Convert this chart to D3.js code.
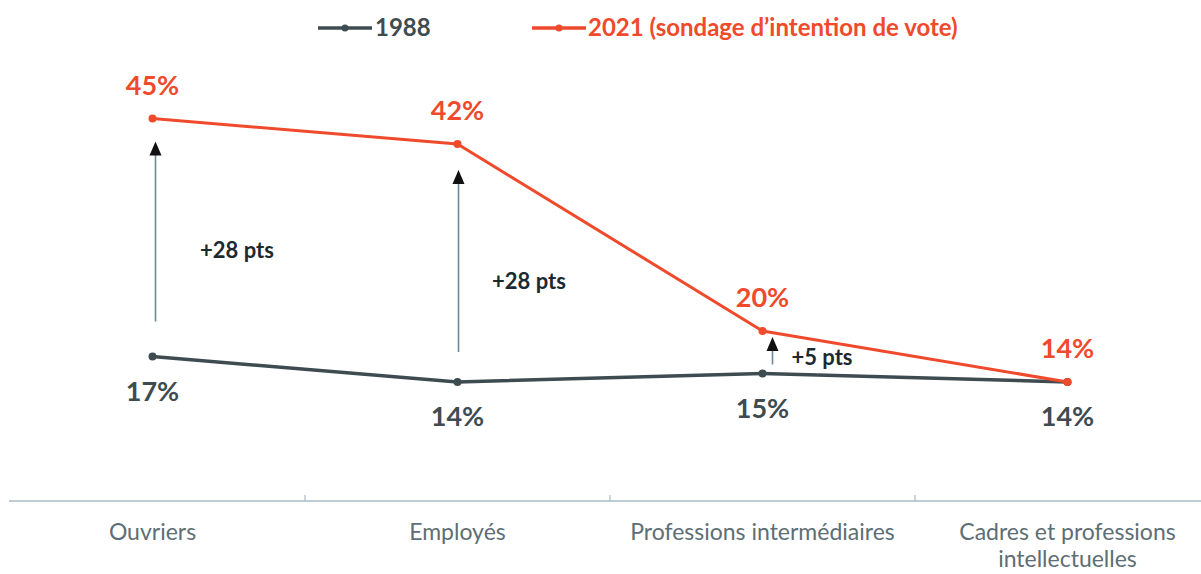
<!DOCTYPE html>
<html><head><meta charset="utf-8">
<script src="https://cdn.jsdelivr.net/npm/d3@7/dist/d3.min.js"></script>
<style>
html,body{margin:0;padding:0;background:#fff;}
svg{display:block;font-family:Lato,"Open Sans",sans-serif;}
</style></head>
<body>
<svg id="chart" width="1201" height="574"></svg>
<script>
const categories = ["Ouvriers", "Employés", "Professions intermédiaires", "Cadres et professions intellectuelles"];
const values1988 = [17, 14, 15, 14];
const values2021 = [45, 42, 20, 14];
const seriesNames = ["1988", "2021 (sondage d\u2019intention de vote)"];
const gapLabels = ["+28 pts", "+28 pts", "+5 pts"];

const RED = "#ef4a2b", GRAY = "#3e4c52", AXIS = "#a9bcc6", CAT = "#5d6e75";
const svg = d3.select("#chart");
const W = 1201, H = 574;

const x = d3.scaleBand().domain(categories).range([0, 1220]).paddingInner(0).paddingOuter(0);
const cx = d => x(d) + x.bandwidth() / 2;
const y = d3.scaleLinear().domain([0, 50]).range([501, 76]);

// axis
svg.append("line").attr("x1", 9).attr("x2", W).attr("y1", y(0)).attr("y2", y(0))
  .attr("stroke", AXIS).attr("stroke-width", 1.5);
categories.slice(1).forEach(c => {
  svg.append("line").attr("x1", x(c)).attr("x2", x(c)).attr("y1", y(0) - 6).attr("y2", y(0))
    .attr("stroke", AXIS).attr("stroke-width", 1.2);
});
const catLines = {"Cadres et professions intellectuelles": ["Cadres et professions", "intellectuelles"]};
categories.forEach(c => {
  const lines = catLines[c] || [c];
  const t = svg.append("text").attr("x", cx(c)).attr("y", 540).attr("text-anchor", "middle")
    .attr("font-size", 23).attr("fill", CAT);
  lines.forEach((l, i) => t.append("tspan").attr("x", cx(c)).attr("dy", i === 0 ? 0 : 27).text(l));
});

// arrows
const arrowDx = [3, 1, 10], arrowBottomGap = [35, 30, 9], arrowTopGap = [23, 26, 6];
const annPos = [[237, 250], [529, 281], [822, 357]];
categories.slice(0, 3).forEach((c, i) => {
  const ax = cx(c) + arrowDx[i];
  const yb = y(values1988[i]) - arrowBottomGap[i];
  const yt = y(values2021[i]) + arrowTopGap[i];
  svg.append("line").attr("x1", ax).attr("x2", ax).attr("y1", yb).attr("y2", yt + 12)
    .attr("stroke", "#6c8894").attr("stroke-width", 1.6);
  svg.append("path").attr("d", `M${ax - 6},${yt + 14} L${ax},${yt} L${ax + 6},${yt + 14} Z`).attr("fill", "#111");
  svg.append("text").attr("x", annPos[i][0]).attr("y", annPos[i][1]).attr("dy", "0.35em")
    .attr("text-anchor", "middle").attr("font-size", 22).attr("font-weight", "bold")
    .attr("fill", "#1c2a30").text(gapLabels[i]);
});

// lines
const line = d3.line().x((d, i) => cx(categories[i])).y(d => y(d));
[[values1988, GRAY, 3.5], [values2021, RED, 3]].forEach(([vals, col, w]) => {
  svg.append("path").datum(vals).attr("d", line).attr("fill", "none")
    .attr("stroke", col).attr("stroke-width", w).attr("stroke-linejoin", "round");
  svg.selectAll(null).data(vals).enter().append("circle")
    .attr("cx", (d, i) => cx(categories[i])).attr("cy", d => y(d)).attr("r", 4).attr("fill", col);
});

// value labels
values2021.forEach((v, i) => {
  svg.append("text").attr("x", cx(categories[i])).attr("y", y(v) - 33).attr("dy", "0.35em")
    .attr("text-anchor", "middle").attr("font-size", 27).attr("font-weight", "bold")
    .attr("fill", RED).text(v + "%");
});
values1988.forEach((v, i) => {
  svg.append("text").attr("x", cx(categories[i])).attr("y", y(v) + 35).attr("dy", "0.35em")
    .attr("text-anchor", "middle").attr("font-size", 27).attr("font-weight", "bold")
    .attr("fill", GRAY).text(v + "%");
});

// legend
const leg = [[318, 375, GRAY, 0], [532, 588, RED, 1]];
leg.forEach(([lx, tx, col, k]) => {
  svg.append("line").attr("x1", lx).attr("x2", lx + 54).attr("y1", 28).attr("y2", 28)
    .attr("stroke", col).attr("stroke-width", 3.5);
  svg.append("circle").attr("cx", lx + 27).attr("cy", 28).attr("r", 3.5).attr("fill", col);
  svg.append("text").attr("x", tx).attr("y", 28).attr("dy", "0.35em").attr("font-size", 24)
    .attr("font-weight", "bold").attr("fill", col).text(seriesNames[k]);
});
</script>
</body></html>
